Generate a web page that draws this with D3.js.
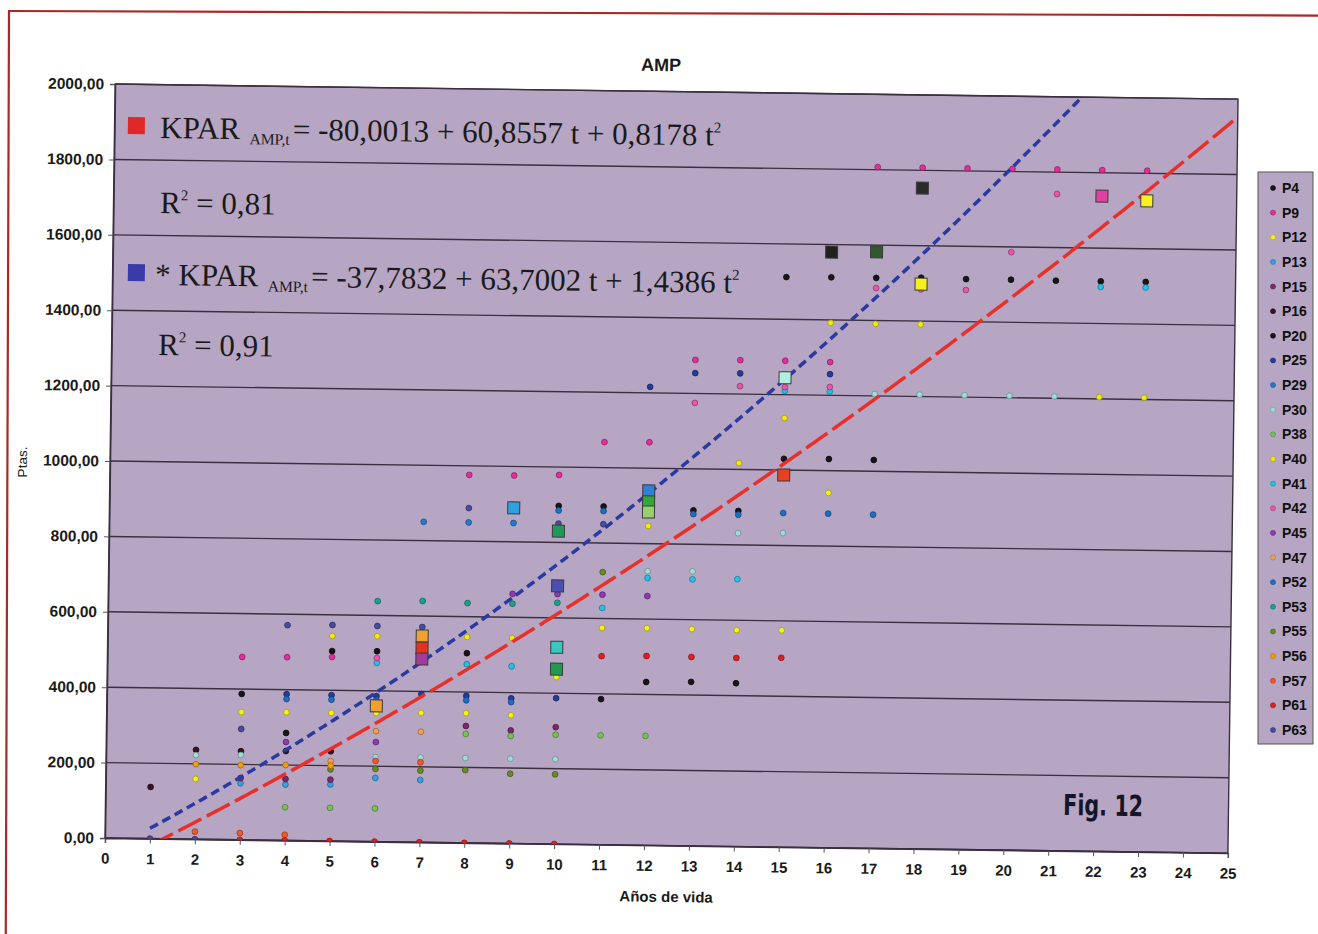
<!DOCTYPE html>
<html>
<head>
<meta charset="utf-8">
<script src="https://cdn.jsdelivr.net/npm/d3@7"></script>
<style>
  body { margin: 0; background: #fff; }
  svg { display: block; }
</style>
</head>
<body>
<svg id="chart" width="1318" height="934"></svg>
<script>
// ---- Data: AMP salary (Ptas.) by years of service, one array per person ----
const P4  = [[4,285],[11,386],[12,433],[13,435],[14,433],[15,1512],[16,1513],[17,1513],[18,1515],[19,1513],[20,1513],[21,1512],[22,1512],[23,1512]];
const P9  = [[3,485],[4,486],[5,488],[8,976],[9,976],[10,979],[11,1068],[12,1069],[13,1289],[14,1290],[15,1290],[16,1288],[17,1807],[18,1807],[19,1807],[20,1807],[21,1807],[22,1807],[23,1807]];
const P12 = [[2,160],[3,339],[4,340],[5,340],[6,341],[7,343],[8,344],[9,340],[10,443],[11,575],[12,576],[13,575],[14,574],[15,575],[16,941]];
const P13 = [[3,150],[4,148],[5,150],[6,169],[7,165]];
const P15 = [[3,164],[4,163],[5,163],[8,310],[9,300],[10,310]];
const P16 = [[1,137],[2,237],[3,235],[4,237],[5,238]];
const P20 = [[3,387],[5,504],[6,505],[8,503],[10,897],[11,897],[13,890],[14,890],[15,1030],[16,1031],[17,1030]];
const P25 = [[4,388],[5,387],[6,386],[7,393],[8,390],[9,385],[10,387],[12,1216],[13,1254],[14,1255],[16,1256],[18,1760]];
const P29 = [[7,850],[8,850],[9,850]];
const P30 = [[2,223],[3,225],[6,224],[7,225],[8,225],[9,225],[10,225],[12,727],[13,728],[14,831],[15,833],[17,1205],[18,1205],[19,1205],[20,1205],[21,1205]];
const P38 = [[4,88],[5,88],[6,88],[8,289],[9,285],[10,290],[11,290],[12,290]];
const P40 = [[5,544],[6,545],[8,546],[9,545],[12,847],[14,1017],[15,1138],[16,1392],[17,1391],[18,1391],[22,1205],[23,1205]];
const P41 = [[6,474],[8,474],[9,470],[11,628],[12,709],[13,707],[14,709],[15,1210],[16,1210],[22,1497],[23,1497]];
const P42 = [[6,487],[13,1175],[14,1221],[15,1220],[16,1222],[17,1486],[18,1484],[19,1484],[20,1586],[21,1742]];
const P45 = [[4,261],[6,264],[9,662],[10,663],[11,663],[12,661]];
const P47 = [[5,212],[6,293],[7,293]];
const P52 = [[4,375],[5,375],[6,375],[8,378],[9,375],[10,885],[11,885],[13,880],[14,880],[15,886],[16,886],[17,885]];
const P53 = [[6,638],[7,640],[8,636],[9,636],[10,640]];
const P55 = [[5,190],[6,193],[7,190],[8,193],[9,185],[10,185],[11,723]];
const P56 = [[2,199],[3,198],[4,200],[5,200]];
const P57 = [[2,20],[3,18],[4,15],[6,214],[7,212]];
const P61 = [[3,0],[4,0],[5,0],[6,0],[7,0],[8,0],[9,0],[10,0],[11,500],[12,502],[13,501],[14,500],[15,502]];
const P63 = [[1,0],[2,0],[3,294],[4,571],[5,573],[6,572],[7,571],[8,888],[10,850],[11,850]];

const seriesNames  = ["P4","P9","P12","P13","P15","P16","P20","P25","P29","P30","P38","P40","P41","P42","P45","P47","P52","P53","P55","P56","P57","P61","P63"];
const seriesValues = [P4,P9,P12,P13,P15,P16,P20,P25,P29,P30,P38,P40,P41,P42,P45,P47,P52,P53,P55,P56,P57,P61,P63];
const seriesColors = ["#161616","#e0309a","#f5f020","#3a9ee0","#7a2a6a","#3a1020","#151515","#253a9a","#2a78c8","#a0dcd8","#78c058","#f2e818","#28c0e8","#e858a8","#8a3cb0","#f0a050","#1f6ec0","#1fa08a","#6a8a28","#f0a010","#f05a28","#e02020","#4a4aa0"];

// Highlighted (square) points
const squareYears  = [6,7,7,7,9,10,10,10,10,12,12,12,15,15,16,17,18,18,22,23];
const squareValues = [360,547,515,486,890,830,685,522,464,940,911,884,1245,987,1580,1582,1753,1498,1738,1727];
const squareColors = ["#f0a030","#f0a030","#e83020","#a03c9c","#2ea0e0","#1f9a5a","#4a50b0","#38c8c0","#1f9a50","#3080d8","#30a838","#98d070","#b0f0e0","#e84020","#202020","#2f5a2f","#2a2a2a","#f5f020","#e040a0","#f8f020"];

// Quadratic trend fits: value = a + b t + c t^2
const fitRed  = [-80.0013, 60.8557, 0.8178];
const fitBlue = [-37.7832, 63.7002, 1.4386];

const xTicks = d3.range(0, 26, 1);
const yTicks = d3.range(0, 2001, 200);

// ---- Layout ----
const X0 = 105, Y0 = 84, W = 1123, H = 754, TILT = 0.77;
const svg = d3.select("#chart");

// Page frame
svg.append("rect").attr("x", 9).attr("y", 11).attr("width", 1340).attr("height", 960)
  .attr("fill", "none").attr("stroke", "#a82a26").attr("stroke-width", 2.2)
  .attr("transform", "rotate(0.2,9,11)");

const x = d3.scaleLinear().domain([0, 25]).range([0, W]);
const y = d3.scaleLinear().domain([0, 2000]).range([H, 0]);

const g = svg.append("g")
  .attr("transform", `rotate(${TILT},${X0},${Y0 + H}) translate(${X0},${Y0})`);

g.append("defs").append("clipPath").attr("id", "plotClip")
  .append("rect").attr("width", W).attr("height", H);

g.append("rect").attr("width", W).attr("height", H)
  .attr("fill", "#b6a6c3");

// horizontal gridlines
g.append("g").selectAll("line").data(yTicks).join("line")
  .attr("x1", 0).attr("x2", W)
  .attr("y1", d => y(d)).attr("y2", d => y(d))
  .attr("stroke", "#3a3040").attr("stroke-width", 1.4);

g.append("rect").attr("width", W).attr("height", H)
  .attr("fill", "none").attr("stroke", "#3a3040").attr("stroke-width", 1.4);

// axes
const locale = d3.formatLocale({ decimal: ",", thousands: "", grouping: [3], currency: ["", ""] });
const fmtY = locale.format(".2f");

const xAxis = g.append("g").attr("transform", `translate(0,${H})`)
  .call(d3.axisBottom(x).tickValues(xTicks).tickSize(5).tickPadding(10).tickFormat(d3.format("d")));
const yAxis = g.append("g")
  .call(d3.axisLeft(y).tickValues(yTicks).tickSize(5).tickPadding(6).tickFormat(fmtY));
[xAxis, yAxis].forEach(a => {
  a.select(".domain").attr("stroke", "#3a3040").attr("stroke-width", 1.4);
  a.selectAll(".tick line").attr("stroke", "#555");
  a.selectAll("text").attr("fill", "#1a1a1a")
    .attr("font-family", "Liberation Sans, Arial, sans-serif")
    .attr("font-weight", "bold");
});
xAxis.selectAll("text").attr("font-size", 15);
yAxis.selectAll("text").attr("font-size", 15.5);

// data points
const plot = g.append("g").attr("clip-path", "url(#plotClip)");
const flat = [];
seriesValues.forEach((pts, i) => pts.forEach(p => flat.push({ t: p[0], v: p[1], c: seriesColors[i] })));
plot.append("g").selectAll("circle").data(flat).join("circle")
  .attr("cx", d => x(d.t)).attr("cy", d => y(d.v)).attr("r", 2.9)
  .attr("fill", d => d.c)
  .attr("stroke", d => d3.color(d.c).darker(1.2))
  .attr("stroke-width", 0.8);

// trend curves
const tSamples = d3.range(1, 25.0001, 0.05);
const quad = (f, t) => f[0] + f[1] * t + f[2] * t * t;
const curve = f => d3.line().x(t => x(t)).y(t => y(quad(f, t)))(tSamples);
plot.append("path").attr("d", curve(fitRed)).attr("fill", "none")
  .attr("stroke", "#e8302a").attr("stroke-width", 3.5).attr("stroke-dasharray", "26,6");
plot.append("path").attr("d", curve(fitBlue)).attr("fill", "none")
  .attr("stroke", "#2c3aa0").attr("stroke-width", 3.5).attr("stroke-dasharray", "9,5");

// highlighted squares
const sq = squareYears.map((t, i) => ({ t, v: squareValues[i], c: squareColors[i] }));
plot.append("g").selectAll("rect").data(sq).join("rect")
  .attr("x", d => x(d.t) - 6).attr("y", d => y(d.v) - 6)
  .attr("width", 12).attr("height", 12)
  .attr("fill", d => d.c).attr("stroke", "#3a3a3a").attr("stroke-width", 1);

// ---- Text ----
function tiltedText(px, py, opts) {
  return svg.append("text")
    .attr("transform", `translate(${px},${py}) rotate(${opts.rot ?? TILT})`)
    .attr("text-anchor", opts.anchor || "start")
    .attr("font-family", opts.family || "Liberation Sans, Arial, sans-serif")
    .attr("font-weight", opts.weight || "normal")
    .attr("font-size", opts.size)
    .attr("fill", opts.fill || "#1a1a1a");
}

tiltedText(661, 71, { anchor: "middle", weight: "bold", size: 18 }).text("AMP");
tiltedText(666, 902, { anchor: "middle", weight: "bold", size: 15 }).text("Años de vida");
tiltedText(27, 462, { anchor: "middle", size: 13.5, rot: -90 }).text("Ptas.");
tiltedText(1063, 815, { weight: "bold", size: 29, family: "DejaVu Sans, sans-serif", fill: "#15152a" })
  .attr("textLength", 80).attr("lengthAdjust", "spacingAndGlyphs").text("Fig. 12");

// equations
const serif = "Liberation Serif, Times New Roman, serif";
function equation(px, py, prefix, coefs, color) {
  svg.append("rect").attr("x", 128).attr("y", py - 21).attr("width", 17).attr("height", 17)
    .attr("fill", color).attr("transform", `rotate(${TILT},128,${py - 21})`);
  const t = tiltedText(px, py, { size: 31, family: serif });
  t.append("tspan").text(prefix + "KPAR ");
  t.append("tspan").attr("font-size", 15.5).attr("dx", 2).attr("dy", 5).text("AMP,t");
  t.append("tspan").attr("dx", 3).attr("dy", -5).text(`= ${coefs[0]} + ${coefs[1]} t + ${coefs[2]} t`);
  t.append("tspan").attr("font-size", 15).attr("dy", -13).text("2");
}
function rsq(px, py, val) {
  const t = tiltedText(px, py, { size: 31, family: serif });
  t.append("tspan").text("R");
  t.append("tspan").attr("font-size", 15).attr("dy", -13).text("2");
  t.append("tspan").attr("dy", 13).text(" = " + val);
}
equation(160, 138, "", ["-80,0013", "60,8557", "0,8178"], "#e02828");
rsq(160, 213, "0,81");
equation(155, 285, "* ", ["-37,7832", "63,7002", "1,4386"], "#3a3aa8");
rsq(158, 355, "0,91");

// ---- Legend ----
const lg = svg.append("g");
lg.append("rect").attr("x", 1258).attr("y", 172).attr("width", 55).attr("height", 572)
  .attr("fill", "#b6a6c3").attr("stroke", "#555").attr("stroke-width", 1);
const step = (730 - 188) / (seriesNames.length - 1);
seriesNames.forEach((n, i) => {
  const yy = 188 + i * step;
  lg.append("circle").attr("cx", 1273).attr("cy", yy).attr("r", 2.5)
    .attr("fill", seriesColors[i]).attr("stroke", d3.color(seriesColors[i]).darker(1)).attr("stroke-width", 0.6);
  lg.append("text").attr("x", 1282).attr("y", yy + 5)
    .attr("font-family", "Liberation Sans, Arial, sans-serif").attr("font-weight", "bold")
    .attr("font-size", 14).attr("fill", "#111").text(n);
});
</script>
</body>
</html>
